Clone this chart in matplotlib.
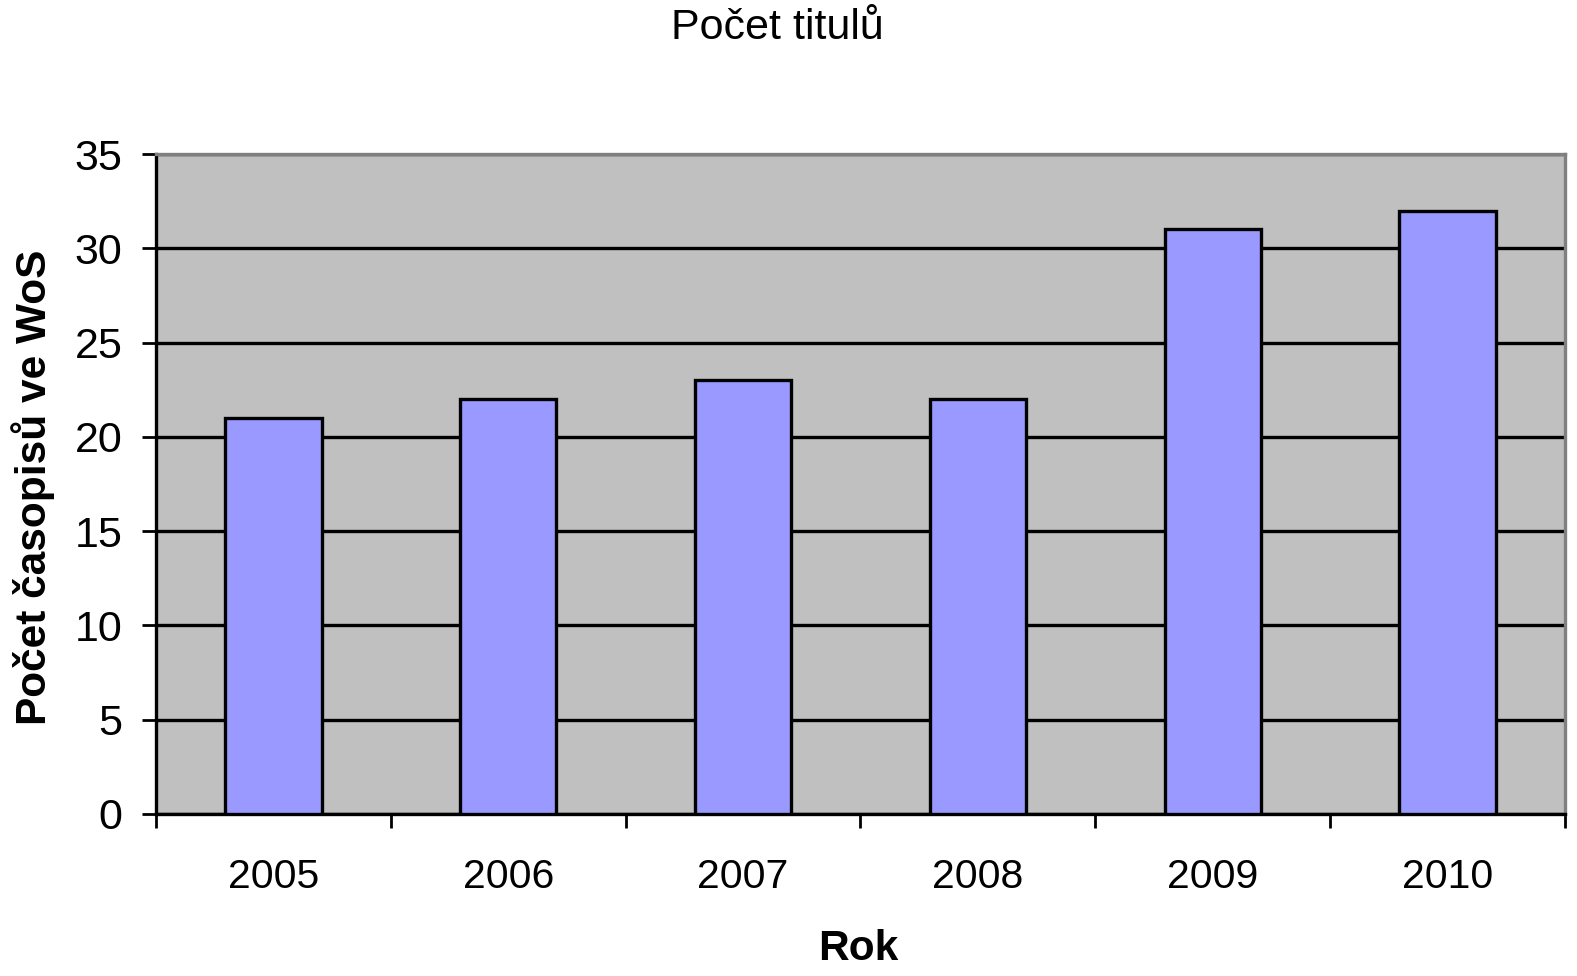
import matplotlib.pyplot as plt
import numpy as np

plt.rcParams['font.family'] = ['Liberation Sans', 'DejaVu Sans']

years = ['2005', '2006', '2007', '2008', '2009', '2010']
counts = [21, 22, 23, 22, 31, 32]

fig = plt.figure(figsize=(15.77, 9.76), dpi=100)
ax = fig.add_axes([0.0989, 0.166, 0.8935, 0.6762])
ax.set_facecolor('#C0C0C0')

x = np.arange(len(years))
ax.set_axisbelow(True)
ax.yaxis.grid(True, color='black', linewidth=2.4)
ax.bar(x, counts, width=0.41, color='#9999FF', edgecolor='black', linewidth=2.4, zorder=3)

ax.set_xlim(-0.5, len(years) - 0.5)
ax.set_ylim(0, 35)
ax.set_yticks(range(0, 36, 5))

ax.set_xticks(x)
ax.set_xticklabels(years)
ax.set_xticks(np.arange(-0.5, len(years)), minor=True)
ax.tick_params(axis='x', which='major', length=0, pad=32, labelsize=29.5)
ax.tick_params(axis='x', which='minor', length=10, width=2, direction='out')
ax.tick_params(axis='y', length=10, width=2, pad=14, labelsize=31)

for s in ['left', 'bottom']:
    ax.spines[s].set_color('black')
    ax.spines[s].set_linewidth(2.4)
for s in ['top', 'right']:
    ax.spines[s].set_color('#808080')
    ax.spines[s].set_linewidth(2.4)

fig.text(0.493, 0.971, 'Počet titulů', ha='center', va='center', fontsize=31)
fig.text(0.544, 0.028, 'Rok', ha='center', va='center', fontsize=30.5, fontweight='bold')
fig.text(0.021, 0.501, 'Počet časopisů ve WoS', ha='center', va='center', rotation=90,
         fontsize=30.5, fontweight='bold')

fig.savefig('out.png', dpi=100)
